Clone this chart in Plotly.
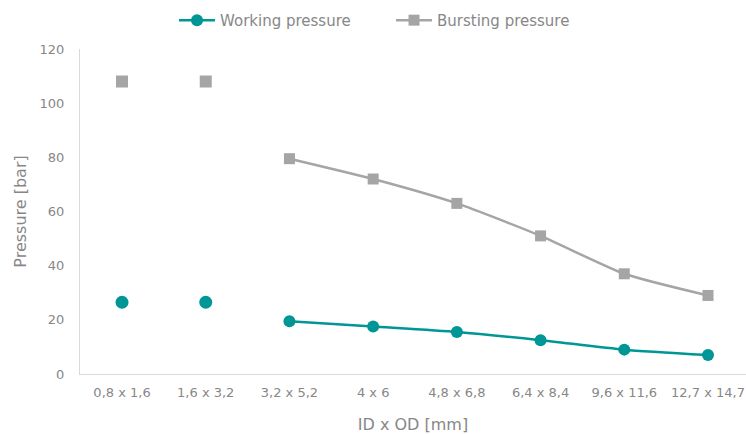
import plotly.graph_objects as go

categories = ["0,8 x 1,6", "1,6 x 3,2", "3,2 x 5,2", "4 x 6", "4,8 x 6,8", "6,4 x 8,4", "9,6 x 11,6", "12,7 x 14,7"]
working = [26.5, 26.5, 19.5, 17.5, 15.5, 12.5, 9, 7]
bursting = [108, 108, 79.5, 72, 63, 51, 37, 29]
# the first two sizes are shown as separate points, not joined to the line
n_iso = 2

teal = "#009696"
grey = "#a5a5a5"
txt = "#878787"
font_fam = "'DejaVu Sans', sans-serif"

fig = go.Figure()

fig.add_trace(go.Scatter(
    x=categories[n_iso:], y=working[n_iso:], mode="lines+markers", name="Working pressure",
    line=dict(color=teal, width=2.5, shape="spline", smoothing=0.6),
    marker=dict(symbol="circle", size=12, color=teal)))
fig.add_trace(go.Scatter(
    x=categories[n_iso:], y=bursting[n_iso:], mode="lines+markers", name="Bursting pressure",
    line=dict(color=grey, width=2.5, shape="spline", smoothing=0.6),
    marker=dict(symbol="square", size=11, color=grey)))
fig.add_trace(go.Scatter(
    x=categories[:n_iso], y=working[:n_iso], mode="markers", showlegend=False,
    marker=dict(symbol="circle", size=13, color=teal)))
fig.add_trace(go.Scatter(
    x=categories[:n_iso], y=bursting[:n_iso], mode="markers", showlegend=False,
    marker=dict(symbol="square", size=12, color=grey)))

fig.update_layout(
    width=746, height=434,
    margin=dict(l=80, r=0, t=49, b=60, autoexpand=False),
    paper_bgcolor="white", plot_bgcolor="white",
    font=dict(family=font_fam, color=txt, size=13),
    legend=dict(orientation="h", x=0.467, xanchor="center", y=1.088, yanchor="middle",
                font=dict(size=15, color=txt), entrywidth=166, entrywidthmode="pixels",
                itemwidth=36),
    xaxis=dict(type="category", categoryorder="array", categoryarray=categories,
               range=[-0.502, 7.454], showgrid=False, showline=True, linecolor="#d9d9d9",
               linewidth=1, ticks="", automargin=False, tickfont=dict(size=13, color=txt),
               ticklabelstandoff=6,
               title=dict(text="ID x OD [mm]", font=dict(size=16, color=txt), standoff=20)),
    yaxis=dict(range=[0, 120], dtick=20, showgrid=False, showline=True, linecolor="#d9d9d9",
               linewidth=1, ticks="", zeroline=False, automargin=False,
               tickfont=dict(size=13, color=txt), ticklabelstandoff=12,
               title=dict(text="Pressure [bar]", font=dict(size=16, color=txt), standoff=8)),
)

fig.write_html("out.html", config={"displayModeBar": False},
               post_script="document.body.style.margin='0';")
